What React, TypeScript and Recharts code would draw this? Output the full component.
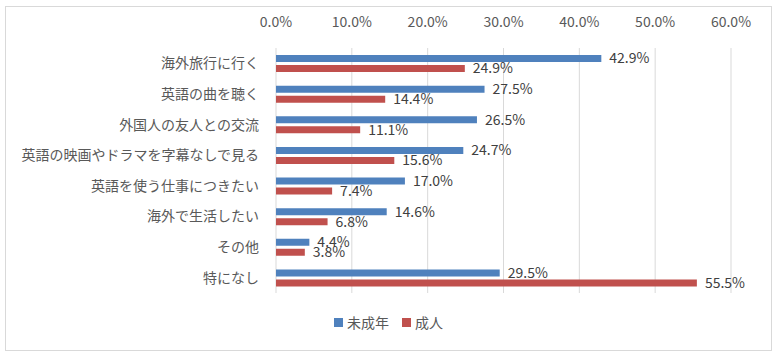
import React from 'react'
import { BarChart, Bar, XAxis, YAxis, CartesianGrid, Legend, LabelList } from 'recharts'

const categories = [
  '海外旅行に行く',
  '英語の曲を聴く',
  '外国人の友人との交流',
  '英語の映画やドラマを字幕なしで見る',
  '英語を使う仕事につきたい',
  '海外で生活したい',
  'その他',
  '特になし',
]
const minors = [42.9, 27.5, 26.5, 24.7, 17.0, 14.6, 4.4, 29.5]
const adults = [24.9, 14.4, 11.1, 15.6, 7.4, 6.8, 3.8, 55.5]
const xTicks = [0, 10, 20, 30, 40, 50, 60]
const seriesNames = ['未成年', '成人']
const seriesColors = ['#4F81BD', '#C0504D']

const data = categories.map((name, i) => ({
  name,
  minor: minors[i],
  adult: adults[i],
}))

const font = '"Noto Sans CJK JP", sans-serif'
const textColor = '#595959'
const pct = (v: number | string) => Number(v).toFixed(1) + '%'

// legend in series order (recharts sorts it by name otherwise)
const renderLegend = () => (
  <div style={{ display: 'flex', justifyContent: 'center', fontSize: 14, fontFamily: font, color: textColor, lineHeight: '20px' }}>
    {seriesNames.map((n, i) => (
      <span key={n} style={{ display: 'inline-flex', alignItems: 'center', marginRight: i === 0 ? 13 : 0 }}>
        <span style={{ width: 9, height: 9, background: seriesColors[i], marginRight: 4, display: 'inline-block' }} />
        {n}
      </span>
    ))}
  </div>
)

export default function App() {
  return (
    <div
      style={{
        position: 'fixed',
        left: 0,
        top: 0,
        width: 777,
        height: 359,
        background: '#fff',
        fontFamily: font,
      }}
    >
      <div
        style={{
          position: 'absolute',
          left: 5,
          top: 6,
          width: 767,
          height: 345,
          border: '1px solid #d9d9d9',
          boxSizing: 'border-box',
        }}
      />
      <BarChart
        width={777}
        height={359}
        data={data}
        layout="vertical"
        margin={{ top: 0, right: 46, bottom: 46, left: 0 }}
        barSize={7}
        barGap={3}
      >
        <CartesianGrid horizontal={false} stroke="#d9d9d9" />
        <XAxis
          type="number"
          orientation="top"
          domain={[0, 60]}
          ticks={xTicks}
          tickFormatter={pct}
          axisLine={false}
          tickLine={false}
          height={48}
          tickSize={0}
          tickMargin={21}
          tick={{ fill: textColor, fontSize: 14, fontFamily: font }}
        />
        <YAxis
          type="category"
          dataKey="name"
          width={276}
          axisLine={false}
          tickLine={false}
          tickSize={0}
          tickMargin={17}
          interval={0}
          tick={{ fill: textColor, fontSize: 14, fontFamily: font }}
        />
        <Legend
          verticalAlign="bottom"
          content={renderLegend}
          wrapperStyle={{ left: 0, width: 777, top: 312 }}
        />
        <Bar dataKey="minor" name={seriesNames[0]} fill={seriesColors[0]} isAnimationActive={false}>
          <LabelList
            dataKey="minor"
            position="right"
            offset={8}
            formatter={pct}
            style={{ fill: '#404040', fontSize: 14, fontFamily: font }}
          />
        </Bar>
        <Bar dataKey="adult" name={seriesNames[1]} fill={seriesColors[1]} isAnimationActive={false}>
          <LabelList
            dataKey="adult"
            position="right"
            offset={8}
            formatter={pct}
            style={{ fill: '#404040', fontSize: 14, fontFamily: font }}
          />
        </Bar>
      </BarChart>
    </div>
  )
}
